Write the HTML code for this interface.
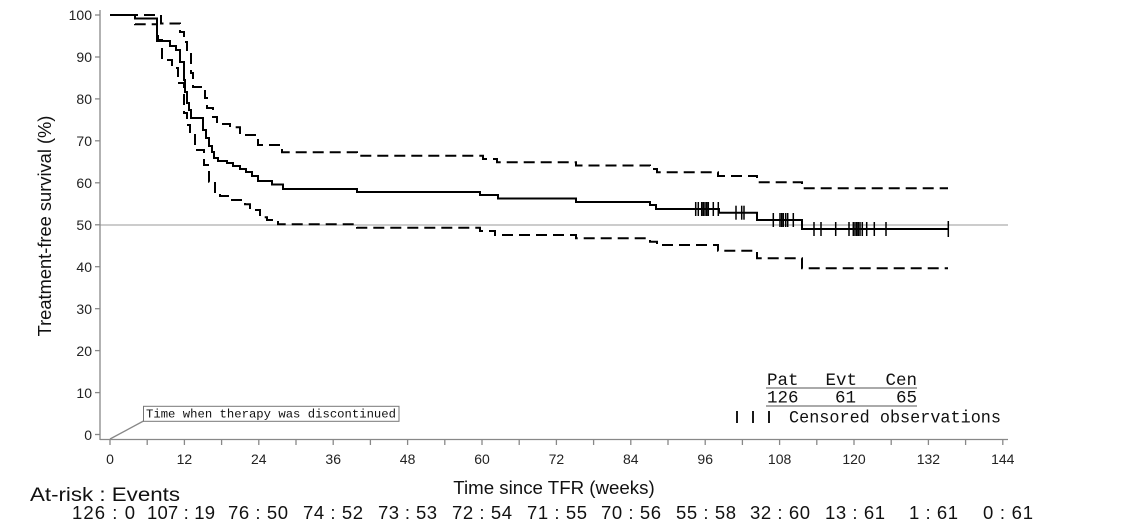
<!DOCTYPE html>
<html><head><meta charset="utf-8"><style>
html,body{margin:0;padding:0;background:#fff;}
svg{display:block;}
</style></head><body>
<svg width="1132" height="525" viewBox="0 0 1132 525" xmlns="http://www.w3.org/2000/svg">
<rect width="1132" height="525" fill="#fff"/>
<!-- reference line at 50 -->
<line x1="100" y1="225" x2="1008" y2="225" stroke="#999" stroke-width="1"/>
<!-- axes -->
<g stroke="#888" stroke-width="1.3" fill="none">
<line x1="100" y1="10" x2="100" y2="440"/>
<line x1="100" y1="439.5" x2="1008" y2="439.5"/>
<line x1="95" y1="15" x2="100" y2="15"/><line x1="95" y1="57" x2="100" y2="57"/><line x1="95" y1="98.9" x2="100" y2="98.9"/><line x1="95" y1="140.8" x2="100" y2="140.8"/><line x1="95" y1="182.8" x2="100" y2="182.8"/><line x1="95" y1="224.8" x2="100" y2="224.8"/><line x1="95" y1="266.7" x2="100" y2="266.7"/><line x1="95" y1="308.7" x2="100" y2="308.7"/><line x1="95" y1="350.6" x2="100" y2="350.6"/><line x1="95" y1="392.6" x2="100" y2="392.6"/><line x1="95" y1="434.5" x2="100" y2="434.5"/>
<line x1="110" y1="439.5" x2="110" y2="445"/><line x1="147.2" y1="439.5" x2="147.2" y2="445"/><line x1="184.4" y1="439.5" x2="184.4" y2="445"/><line x1="221.6" y1="439.5" x2="221.6" y2="445"/><line x1="258.8" y1="439.5" x2="258.8" y2="445"/><line x1="296" y1="439.5" x2="296" y2="445"/><line x1="333.2" y1="439.5" x2="333.2" y2="445"/><line x1="370.4" y1="439.5" x2="370.4" y2="445"/><line x1="407.6" y1="439.5" x2="407.6" y2="445"/><line x1="444.8" y1="439.5" x2="444.8" y2="445"/><line x1="482" y1="439.5" x2="482" y2="445"/><line x1="519.2" y1="439.5" x2="519.2" y2="445"/><line x1="556.4" y1="439.5" x2="556.4" y2="445"/><line x1="593.6" y1="439.5" x2="593.6" y2="445"/><line x1="630.8" y1="439.5" x2="630.8" y2="445"/><line x1="668" y1="439.5" x2="668" y2="445"/><line x1="705.2" y1="439.5" x2="705.2" y2="445"/><line x1="742.4" y1="439.5" x2="742.4" y2="445"/><line x1="779.6" y1="439.5" x2="779.6" y2="445"/><line x1="816.8" y1="439.5" x2="816.8" y2="445"/><line x1="854" y1="439.5" x2="854" y2="445"/><line x1="891.2" y1="439.5" x2="891.2" y2="445"/><line x1="928.4" y1="439.5" x2="928.4" y2="445"/><line x1="965.6" y1="439.5" x2="965.6" y2="445"/><line x1="1002.8" y1="439.5" x2="1002.8" y2="445"/>
<!-- leader line -->
<line x1="110" y1="439" x2="143.5" y2="421"/>
</g>
<!-- y tick labels -->
<g font-family="'Liberation Sans', sans-serif" font-size="14" fill="#222" text-anchor="end">
<text x="92" y="20">100</text><text x="92" y="62">90</text><text x="92" y="104">80</text><text x="92" y="146">70</text><text x="92" y="188">60</text><text x="92" y="230">50</text><text x="92" y="272">40</text><text x="92" y="314">30</text><text x="92" y="356">20</text><text x="92" y="398">10</text><text x="92" y="440">0</text>
</g>
<!-- x tick labels -->
<g font-family="'Liberation Sans', sans-serif" font-size="14" fill="#222" text-anchor="middle">
<text x="110" y="464">0</text><text x="184.4" y="464">12</text><text x="258.8" y="464">24</text><text x="333.2" y="464">36</text><text x="407.6" y="464">48</text><text x="482" y="464">60</text><text x="556.4" y="464">72</text><text x="630.8" y="464">84</text><text x="705.2" y="464">96</text><text x="779.6" y="464">108</text><text x="854" y="464">120</text><text x="928.4" y="464">132</text><text x="1002.8" y="464">144</text>
</g>
<!-- axis titles -->
<text x="554" y="494" font-family="'Liberation Sans', sans-serif" font-size="18.7" fill="#111" text-anchor="middle">Time since TFR (weeks)</text>
<text transform="translate(51,226) rotate(-90)" font-family="'Liberation Sans', sans-serif" font-size="18.3" fill="#111" text-anchor="middle">Treatment-free survival (%)</text>

<!-- CI curves -->
<g fill="none" stroke="#000" stroke-width="2" stroke-dasharray="11 6">
<path d="M110,15 H161 V23.5 H180 V32 H184 V42 H187 V53 H191 V73 H193 V87 H205 V98 H207 V108 H213 V117 H217 V124 H230 V127.3 H240 V135 H258 V145 H282 V152.3 H357 V155.7 H483 V159 H497 V162.3 H576 V165.5 H650 V169 H657 V172.3 H718 V176 H757 V182.3 H802 V188.3 H948"/>
<path d="M110,15 H135 V24.3 H157 V32 H158 V40 H162 V60 H172 V68 H178 V83 H184 V113 H187 V125 H190 V133 H195 V150 H204 V165 H209 V181.7 H215 V192 H220 V196 H230 V200 H245 V204.3 H250 V210 H260 V217.3 H267 V220 H278 V224.3 H357 V227.7 H480 V231 H495 V235 H576 V238.3 H650 V241.7 H657 V245 H718 V250.7 H757 V258.3 H802 V268.3 H948"/>
</g>
<!-- main KM curve -->
<path fill="none" stroke="#000" stroke-width="2" d="M110,15 H135 V18.5 H157 V41 H170 V46 H176 V50 H180 V62 H184 V80 H185 V92 H187 V103 H189 V110 H191 V118 H203 V130 H206 V138 H209 V146 H212 V152 H214 V158 H218 V161 H227 V163 H233 V166 H240 V169 H246 V172 H252 V176 H258 V181 H272 V184.5 H283 V189 H357 V192 H480 V195 H498 V198.5 H576 V202 H650 V205 H656 V209 H719 V212.7 H757 V220 H802 V229 H948"/>
<!-- censor marks -->
<g stroke="#000" stroke-width="1.5">
<line x1="695.7" y1="202" x2="695.7" y2="216"/><line x1="698.3" y1="202" x2="698.3" y2="216"/><line x1="701.7" y1="202" x2="701.7" y2="216"/><line x1="703.3" y1="202" x2="703.3" y2="216"/><line x1="705" y1="202" x2="705" y2="216"/><line x1="706.7" y1="202" x2="706.7" y2="216"/><line x1="708.3" y1="202" x2="708.3" y2="216"/><line x1="713.3" y1="202" x2="713.3" y2="216"/><line x1="718.3" y1="202" x2="718.3" y2="216"/>
<line x1="736" y1="205.7" x2="736" y2="219.7"/><line x1="741.7" y1="205.7" x2="741.7" y2="219.7"/><line x1="744" y1="205.7" x2="744" y2="219.7"/>
<line x1="773.3" y1="213" x2="773.3" y2="227"/><line x1="780" y1="213" x2="780" y2="227"/><line x1="781.7" y1="213" x2="781.7" y2="227"/><line x1="783.3" y1="213" x2="783.3" y2="227"/><line x1="785.7" y1="213" x2="785.7" y2="227"/><line x1="787.7" y1="213" x2="787.7" y2="227"/><line x1="793.3" y1="213" x2="793.3" y2="227"/>
<line x1="814" y1="222" x2="814" y2="236"/><line x1="821" y1="222" x2="821" y2="236"/><line x1="835.7" y1="222" x2="835.7" y2="236"/><line x1="849" y1="222" x2="849" y2="236"/><line x1="853.3" y1="222" x2="853.3" y2="236"/><line x1="855" y1="222" x2="855" y2="236"/><line x1="856.7" y1="222" x2="856.7" y2="236"/><line x1="858.3" y1="222" x2="858.3" y2="236"/><line x1="860" y1="222" x2="860" y2="236"/><line x1="862.3" y1="222" x2="862.3" y2="236"/><line x1="866.7" y1="222" x2="866.7" y2="236"/><line x1="874.3" y1="222" x2="874.3" y2="236"/><line x1="886" y1="222" x2="886" y2="236"/><line x1="948.3" y1="221" x2="948.3" y2="237"/>
</g>

<!-- annotation box -->
<rect x="143.5" y="406.3" width="255.5" height="15" fill="#fff" stroke="#777" stroke-width="1"/>
<text x="146" y="417.5" font-family="'Liberation Mono', monospace" font-size="12.3" fill="#111" textLength="250" lengthAdjust="spacingAndGlyphs">Time when therapy was discontinued</text>

<!-- legend -->
<g font-family="'Liberation Mono', monospace" font-size="17.5" fill="#111">
<text x="767" y="385">Pat</text>
<text x="857" y="385" text-anchor="end">Evt</text>
<text x="917" y="385" text-anchor="end">Cen</text>
<text x="767" y="402.5">126</text>
<text x="856" y="402.5" text-anchor="end">61</text>
<text x="917" y="402.5" text-anchor="end">65</text>
<text x="789" y="422.7" textLength="212" lengthAdjust="spacingAndGlyphs">Censored observations</text>
</g>
<g stroke="#aaa" stroke-width="2">
<line x1="766" y1="388" x2="917" y2="388"/>
<line x1="766" y1="406" x2="917" y2="406"/>
</g>
<g stroke="#000" stroke-width="1.8">
<line x1="737" y1="411" x2="737" y2="423"/>
<line x1="753" y1="411" x2="753" y2="423"/>
<line x1="769" y1="411" x2="769" y2="423"/>
</g>

<!-- at-risk table -->
<text x="30" y="501" font-family="'Liberation Sans', sans-serif" font-size="19" fill="#111" textLength="150" lengthAdjust="spacingAndGlyphs">At-risk : Events</text>
<g font-family="'Liberation Sans', sans-serif" font-size="18.5" fill="#111">
<text x="72" y="519" textLength="63" lengthAdjust="spacing">126 : 0</text>
<text x="147" y="519" textLength="68" lengthAdjust="spacing">107 : 19</text>
<text x="228" y="519" textLength="60" lengthAdjust="spacing">76 : 50</text>
<text x="303" y="519" textLength="60" lengthAdjust="spacing">74 : 52</text>
<text x="378" y="519" textLength="59" lengthAdjust="spacing">73 : 53</text>
<text x="452" y="519" textLength="60" lengthAdjust="spacing">72 : 54</text>
<text x="527" y="519" textLength="60" lengthAdjust="spacing">71 : 55</text>
<text x="601" y="519" textLength="60" lengthAdjust="spacing">70 : 56</text>
<text x="676" y="519" textLength="60" lengthAdjust="spacing">55 : 58</text>
<text x="750" y="519" textLength="60" lengthAdjust="spacing">32 : 60</text>
<text x="825" y="519" textLength="60" lengthAdjust="spacing">13 : 61</text>
<text x="909" y="519" textLength="49" lengthAdjust="spacing">1 : 61</text>
<text x="983" y="519" textLength="50" lengthAdjust="spacing">0 : 61</text>
</g>
</svg>
</body></html>
